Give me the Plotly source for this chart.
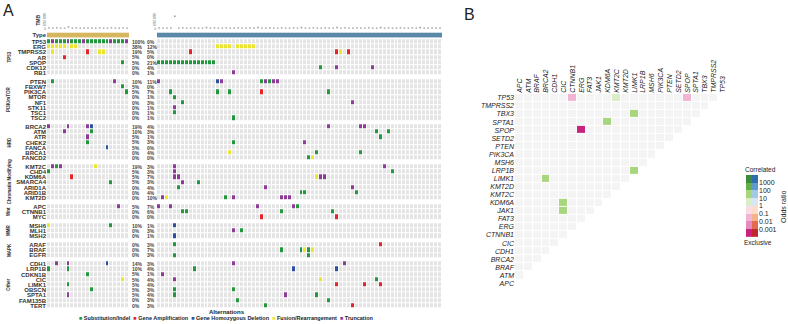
import math
import plotly.graph_objects as go

W, H = 788, 324

# ---------------- Panel A data ----------------
group_names = ["TP53", "PI3K/mTOR", "HRD", "Chromatin Modifying", "Wnt", "MMR", "MAPK", "Other"]
group_genes = [
    ["TP53", "ERG", "TMPRSS2", "AR", "SPOP", "CDK12", "RB1"],
    ["PTEN", "FBXW7", "PIK3CA", "MTOR", "NF1", "STK11", "TSC1", "TSC2"],
    ["BRCA2", "ATM", "ATR", "CHEK2", "FANCA", "BRCA1", "FANCD2"],
    ["KMT2C", "CHD4", "KDM6A", "SMARCA4", "ARID1A", "ARID1B", "KMT2D"],
    ["APC", "CTNNB1", "MYC"],
    ["MSH6", "MLH1", "MSH2"],
    ["ARAF", "BRAF", "EGFR"],
    ["CDH1", "LRP1B", "CDKN1B", "CIC", "LIMK1", "OBSCN", "SPTA1", "FAM135B", "TERT"],
]

n_left = 21
n_right = 72

pct_left = ["100%", "38%", "19%", "5%", "5%", "0%", "0%",
            "10%", "5%", "5%", "0%", "0%", "0%", "0%", "0%",
            "19%", "10%", "5%", "5%", "5%", "0%", "0%",
            "19%", "5%", "5%", "5%", "0%", "0%", "0%",
            "5%", "0%", "0%",
            "10%", "0%", "0%",
            "0%", "0%", "0%",
            "14%", "10%", "5%", "5%", "5%", "5%", "5%", "0%", "0%"]
pct_right = ["0%", "12%", "5%", "0%", "21%", "4%", "1%",
             "11%", "0%", "7%", "1%", "3%", "1%", "1%", "1%",
             "4%", "3%", "1%", "3%", "0%", "4%", "0%",
             "3%", "3%", "7%", "3%", "4%", "4%", "10%",
             "7%", "6%", "0%",
             "1%", "3%", "1%",
             "3%", "7%", "3%",
             "3%", "4%", "1%", "4%", "4%", "3%", "4%", "3%", "3%"]

# S = Substitution/Indel, A = Amplification, D = Homozygous deletion, F = Fusion, T = Truncation
left_alt = {
    "TP53": [(i, "T" if i in (1, 5, 9, 16, 20) else "S") for i in range(21)],
    "ERG": [(0, "F"), (1, "F"), (2, "F"), (3, "F"), (4, "F"), (6, "F"), (7, "F")],
    "TMPRSS2": [(1, "F"), (10, "A"), (13, "F"), (14, "F")],
    "AR": [(4, "A")],
    "SPOP": [(19, "S")],
    "PTEN": [(1, "S"), (17, "T")],
    "FBXW7": [(19, "S")],
    "PIK3CA": [(20, "S")],
    "BRCA2": [(0, "T"), (5, "T"), (10, "T"), (11, "D")],
    "ATM": [(4, "T"), (11, "S")],
    "ATR": [(10, "T")],
    "CHEK2": [(10, "S")],
    "FANCA": [(15, "D")],
    "KMT2C": [(1, "T"), (2, "S"), (3, "T"), (12, "F")],
    "CHD4": [(0, "S")],
    "KDM6A": [(6, "A")],
    "SMARCA4": [(16, "S")],
    "APC": [(18, "T")],
    "MSH6": [(0, "F"), (16, "S")],
    "CDH1": [(2, "T"), (5, "T"), (15, "D")],
    "LRP1B": [(0, "S"), (5, "S")],
    "CDKN1B": [(10, "S")],
    "CIC": [(19, "F")],
    "LIMK1": [(5, "S")],
    "OBSCN": [(11, "S")],
    "SPTA1": [(5, "T")],
}
right_alt = {
    "ERG": [(c, "F") for c in (15, 16, 17, 18, 20, 21, 22, 23, 24)],
    "TMPRSS2": [(8, "A"), (45, "A"), (46, "F"), (48, "A")],
    "SPOP": [(c, "S") for c in range(15)],
    "CDK12": [(41, "S"), (45, "T"), (54, "T")],
    "RB1": [(19, "T")],
    "PTEN": [(0, "T"), (15, "D"), (16, "T"), (26, "S"), (27, "T"), (28, "S"), (29, "T"), (30, "T")],
    "PIK3CA": [(3, "S"), (15, "S"), (18, "S"), (26, "A"), (43, "S")],
    "MTOR": [(4, "S")],
    "NF1": [(6, "S"), (49, "T")],
    "STK11": [(4, "T")],
    "TSC1": [(4, "S")],
    "TSC2": [(19, "S")],
    "BRCA2": [(43, "T"), (51, "T"), (52, "T")],
    "ATM": [(55, "S"), (58, "S")],
    "ATR": [(56, "S")],
    "CHEK2": [(19, "S"), (37, "T")],
    "BRCA1": [(18, "F"), (40, "S"), (51, "S")],
    "FANCD2": [(38, "S"), (39, "F")],
    "KMT2C": [(4, "T"), (57, "T")],
    "CHD4": [(4, "T"), (59, "S")],
    "KDM6A": [(4, "T"), (5, "T"), (40, "F"), (41, "T"), (42, "T")],
    "SMARCA4": [(6, "T"), (10, "S")],
    "ARID1A": [(5, "S"), (27, "T"), (49, "T")],
    "ARID1B": [(36, "S"), (37, "S"), (50, "S")],
    "KMT2D": [(1, "T"), (2, "F"), (17, "S"), (19, "T"), (31, "T"), (32, "T"), (33, "T")],
    "APC": [(0, "T"), (3, "T"), (25, "T"), (34, "T"), (35, "S")],
    "CTNNB1": [(6, "S"), (7, "S"), (31, "S"), (44, "S")],
    "MYC": [(26, "A"), (45, "A")],
    "MSH6": [(4, "D")],
    "MLH1": [(19, "T"), (21, "S")],
    "MSH2": [(4, "D")],
    "ARAF": [(4, "S"), (56, "A")],
    "BRAF": [(31, "S"), (36, "S"), (37, "F"), (38, "S"), (39, "F")],
    "EGFR": [(4, "S"), (38, "S")],
    "CDH1": [(19, "T"), (47, "T")],
    "LRP1B": [(9, "S"), (34, "D"), (45, "D")],
    "CDKN1B": [(1, "T")],
    "CIC": [(4, "T"), (41, "F"), (55, "S")],
    "LIMK1": [(45, "A"), (52, "A"), (56, "A")],
    "OBSCN": [(4, "S"), (19, "S")],
    "SPTA1": [(4, "S"), (32, "T"), (40, "S")],
    "FAM135B": [(20, "S"), (43, "S")],
    "TERT": [(27, "S"), (49, "A")],
}

tmb_left = [2, 1, 2, 1, 1, 5, 1, 2, 1, 1, 2, 1, 1, 2, 1, 1, 2, 1, 1, 2, 1]
tmb_right = [2, 1, 1, 2, 36, 1, 2, 1, 1, 2, 1, 1, 3, 1, 2, 1, 1, 2, 1, 1,
             2, 1, 1, 2, 1, 3, 1, 1, 2, 1, 1, 2, 1, 1, 2, 1, 3, 1, 1, 2,
             1, 1, 2, 1, 1, 3, 1, 2, 1, 1, 2, 1, 1, 2, 1, 1, 3, 1, 2, 1,
             1, 2, 1, 1, 2, 1, 3, 1, 1, 2, 1, 1]

alt_labels = ["Substitution/Indel", "Gene Amplification", "Gene Homozygous Deletion",
              "Fusion/Rearrangement", "Truncation"]
alt_codes = {"S": 1, "A": 2, "D": 3, "F": 4, "T": 5}
alt_colors = ["#e4e4e4", "#23973c", "#e4222a", "#2b4fa3", "#ece52f", "#8d3b97"]

# ---------------- Panel B data ----------------
b_genes = ["APC", "ATM", "BRAF", "BRCA2", "CDH1", "CIC", "CTNNB1", "ERG", "FAT3", "JAK1",
           "KDM6A", "KMT2C", "KMT2D", "LIMK1", "LRP1B", "MSH6", "PIK3CA", "PTEN", "SETD2",
           "SPOP", "SPTA1", "TBX3", "TMPRSS2", "TP53"]
b_sig_row = ["TP53", "TP53", "TP53", "TBX3", "SPTA1", "SPOP", "LRP1B", "LIMK1", "KDM6A", "JAK1"]
b_sig_col = ["CTNNB1", "KMT2C", "SPOP", "LIMK1", "KDM6A", "ERG", "LIMK1", "BRCA2", "CIC", "CIC"]
b_sig_or = [0.03, 5, 0.03, 30, 30, 0.0004, 30, 30, 30, 30]
or_ticks = ["0.001", "0.01", "0.1", "1", "10", "100", "1000"]

col_a = ["#c8237f", "#e28bbd", "#f1b4d2", "#fadbe6", "#daedc9", "#a8d67e", "#66ae47", "#3c8a3b"]
col_b = ["#c1272d", "#e26b4f", "#f5b18a", "#fddccb", "#d7e7f1", "#a3c8e2", "#5f9bc9", "#2f6ea8"]


def discrete_scale(colors):
    n = len(colors)
    cs = []
    for k, c in enumerate(colors):
        cs.append([k / n, c])
        cs.append([(k + 1) / n, c])
    return cs


def code_scale(colors):
    n = len(colors) - 1
    cs = []
    for k, c in enumerate(colors):
        lo = max(0.0, (k - 0.5) / n)
        hi = min(1.0, (k + 0.5) / n)
        cs.append([lo, c])
        cs.append([hi, c])
    return cs


def px_x(v):
    return v / W


def px_y(v):
    return 1 - v / H


# ---------------- Build oncoprint matrices ----------------
GAP = 0.67
TOP = 1.3
edges = [TOP]
centers = []
genes_flat = []
zl, zr = [], []
group_mid = []
nan = float("nan")
for gi, genes in enumerate(group_genes):
    gstart = edges[-1]
    for g in genes:
        y0 = edges[-1]
        edges.append(y0 + 1)
        centers.append(y0 + 0.5)
        genes_flat.append(g)
        rl = [0] * n_left
        for c, t in left_alt.get(g, []):
            rl[c] = alt_codes[t]
        rr = [0] * n_right
        for c, t in right_alt.get(g, []):
            rr[c] = alt_codes[t]
        zl.append(rl)
        zr.append(rr)
    group_mid.append((gstart + edges[-1]) / 2)
    if gi < len(group_genes) - 1:
        edges.append(edges[-1] + GAP)
        zl.append([nan] * n_left)
        zr.append([nan] * n_right)
total = edges[-1]

fig = go.Figure()

common = dict(zmin=0, zmax=5, colorscale=code_scale(alt_colors), showscale=False,
              xgap=1, ygap=1, hoverinfo="skip")
fig.add_trace(go.Heatmap(z=zl, x=list(range(n_left)), y=edges, xaxis="x", yaxis="y", **common))
fig.add_trace(go.Heatmap(z=zr, x=list(range(n_right)), y=edges, xaxis="x2", yaxis="y", **common))

# Type rows
fig.add_trace(go.Heatmap(z=[[0] * n_left], x=list(range(n_left)), y=[0, 1], xaxis="x", yaxis="y",
                         colorscale=[[0, "#d6b65e"], [1, "#d6b65e"]], showscale=False, hoverinfo="skip"))
fig.add_trace(go.Heatmap(z=[[0] * n_right], x=list(range(n_right)), y=[0, 1], xaxis="x2", yaxis="y",
                         colorscale=[[0, "#5b89aa"], [1, "#5b89aa"]], showscale=False, hoverinfo="skip"))

# TMB dots
fig.add_trace(go.Scatter(x=list(range(n_left)), y=tmb_left, xaxis="x3", yaxis="y3", mode="markers",
                         marker=dict(size=1.6, color="#9a9a9a", symbol="square"),
                         showlegend=False, hoverinfo="skip"))
fig.add_trace(go.Scatter(x=list(range(n_right)), y=tmb_right, xaxis="x4", yaxis="y4", mode="markers",
                         marker=dict(size=1.6, color="#9a9a9a", symbol="square"),
                         showlegend=False, hoverinfo="skip"))

# ---------------- Panel B ----------------
nb = len(b_genes)
zbg = [[0 if i < j else nan for i in range(nb)] for j in range(nb)]
zsig = [[nan] * nb for _ in range(nb)]
for rg, cg, orv in zip(b_sig_row, b_sig_col, b_sig_or):
    zsig[b_genes.index(rg)][b_genes.index(cg)] = math.log10(orv)

fig.add_trace(go.Heatmap(z=zbg, x=list(range(nb)), y=list(range(nb)), xaxis="x5", yaxis="y5",
                         colorscale=[[0, "#f4f4f4"], [1, "#f4f4f4"]], showscale=False,
                         xgap=1, ygap=1, hoverinfo="skip"))
fig.add_trace(go.Heatmap(z=zsig, x=list(range(nb)), y=list(range(nb)), xaxis="x5", yaxis="y5",
                         zmin=-4, zmax=4, colorscale=discrete_scale(col_a), showscale=False,
                         xgap=1, ygap=1, hoverinfo="skip"))

# legend swatches
lev = [k - 3.5 for k in range(8)]
fig.add_trace(go.Heatmap(z=[[v] for v in lev], x=[0], y=lev, xaxis="x6", yaxis="y6",
                         zmin=-4, zmax=4, colorscale=discrete_scale(col_a), showscale=False, hoverinfo="skip"))
fig.add_trace(go.Heatmap(z=[[v] for v in lev], x=[1], y=lev, xaxis="x6", yaxis="y6",
                         zmin=-4, zmax=4, colorscale=discrete_scale(col_b), showscale=False, hoverinfo="skip"))

FONT = "Liberation Sans"
hide = dict(showgrid=False, zeroline=False, showticklabels=False, ticks="", showline=False)

ydom_onco = [px_y(30.8 + total * 5.27), px_y(30.8)]
fig.update_layout(
    width=W, height=H, margin=dict(l=0, r=0, t=0, b=0),
    paper_bgcolor="white", plot_bgcolor="rgba(0,0,0,0)",
    font=dict(family=FONT, color="#222"),
    showlegend=False,
    xaxis=dict(domain=[px_x(47), px_x(129)], range=[-0.5, n_left - 0.5], anchor="y", **hide),
    xaxis2=dict(domain=[px_x(157), px_x(442)], range=[-0.5, n_right - 0.5], anchor="y", **hide),
    yaxis=dict(domain=ydom_onco, range=[total, 0], anchor="x",
               tickvals=[0.5] + centers, ticktext=["Type"] + genes_flat,
               tickfont=dict(size=6, family=FONT, weight="bold", color="#333"),
               showgrid=False, zeroline=False, ticks="", showline=False),
    xaxis3=dict(domain=[px_x(47), px_x(129)], range=[-0.5, n_left - 0.5], anchor="y3", **hide),
    yaxis3=dict(domain=[px_y(27), px_y(13)], range=[0, 40], anchor="x3", tickvals=[0, 10, 20, 30, 40],
                tickfont=dict(size=3, color="#666"), showgrid=False, zeroline=False, ticks=""),
    xaxis4=dict(domain=[px_x(157), px_x(442)], range=[-0.5, n_right - 0.5], anchor="y4", **hide),
    yaxis4=dict(domain=[px_y(27), px_y(13)], range=[0, 40], anchor="x4", tickvals=[0, 10, 20, 30, 40],
                tickfont=dict(size=3, color="#666"), showgrid=False, zeroline=False, ticks=""),
    xaxis5=dict(domain=[px_x(515), px_x(727)], range=[-0.5, nb - 0.5], anchor="y5", side="top",
                tickvals=list(range(nb)), ticktext=b_genes, tickangle=-90,
                tickfont=dict(size=7, family=FONT, style="italic", color="#222"),
                showgrid=False, zeroline=False, ticks="", showline=False),
    yaxis5=dict(domain=[px_y(289), px_y(93)], range=[-0.5, nb - 0.5], anchor="x5",
                tickvals=list(range(nb)), ticktext=b_genes,
                tickfont=dict(size=7, family=FONT, style="italic", color="#222"),
                showgrid=False, zeroline=False, ticks="", showline=False),
    xaxis6=dict(domain=[px_x(746), px_x(758)], range=[-0.5, 1.5], anchor="y6", **hide),
    yaxis6=dict(domain=[px_y(238), px_y(175)], range=[-4, 4], anchor="x6", side="right",
                tickvals=[-3, -2, -1, 0, 1, 2, 3], ticktext=or_ticks,
                tickfont=dict(size=7, family=FONT, color="#222"),
                showgrid=False, zeroline=False, ticks="", showline=False),
)


def note(text, x, y, yref="paper", xanchor="center", size=6, angle=0, weight="normal", color="#222"):
    return dict(text=text, x=x, y=y, xref="paper", yref=yref, xanchor=xanchor, yanchor="middle",
                textangle=angle, showarrow=False,
                font=dict(size=size, family=FONT, weight=weight, color=color))


ann = []
ann.append(note("A", px_x(1), px_y(9), xanchor="left", size=16))
ann.append(note("B", px_x(462), px_y(13), xanchor="left", size=16))
ann.append(note("TMB", px_x(38), px_y(19), size=5, angle=-90, weight="bold", color="#333"))
for c, pl, pr in zip(centers, pct_left, pct_right):
    ann.append(note(pl, px_x(130), c, yref="y", xanchor="left", size=5, weight="bold", color="#444"))
    ann.append(note(pr, px_x(145), c, yref="y", xanchor="left", size=5, weight="bold", color="#444"))
for name, ym in zip(group_names, group_mid):
    ann.append(note(name, px_x(9), ym, yref="y", size=4.5, angle=-90, weight="bold", color="#333"))
ann.append(note("Alternations", px_x(227), px_y(313.5), size=6, weight="bold"))
leg = "  ".join(f"<span style='color:{alt_colors[k + 1]}'>■</span> {lab}" for k, lab in enumerate(alt_labels))
ann.append(note(leg, px_x(226), px_y(320), size=5.5, weight="bold"))
ann.append(note("Correlated", px_x(760), px_y(170), size=6.5))
ann.append(note("Exclusive", px_x(758), px_y(243), size=6.5))
ann.append(note("Odds ratio", px_x(783.5), px_y(208), size=7, angle=-90))
fig.update_layout(annotations=ann)

fig.write_html("out.html", config={"displayModeBar": False},
               post_script="document.body.style.margin='0';")
